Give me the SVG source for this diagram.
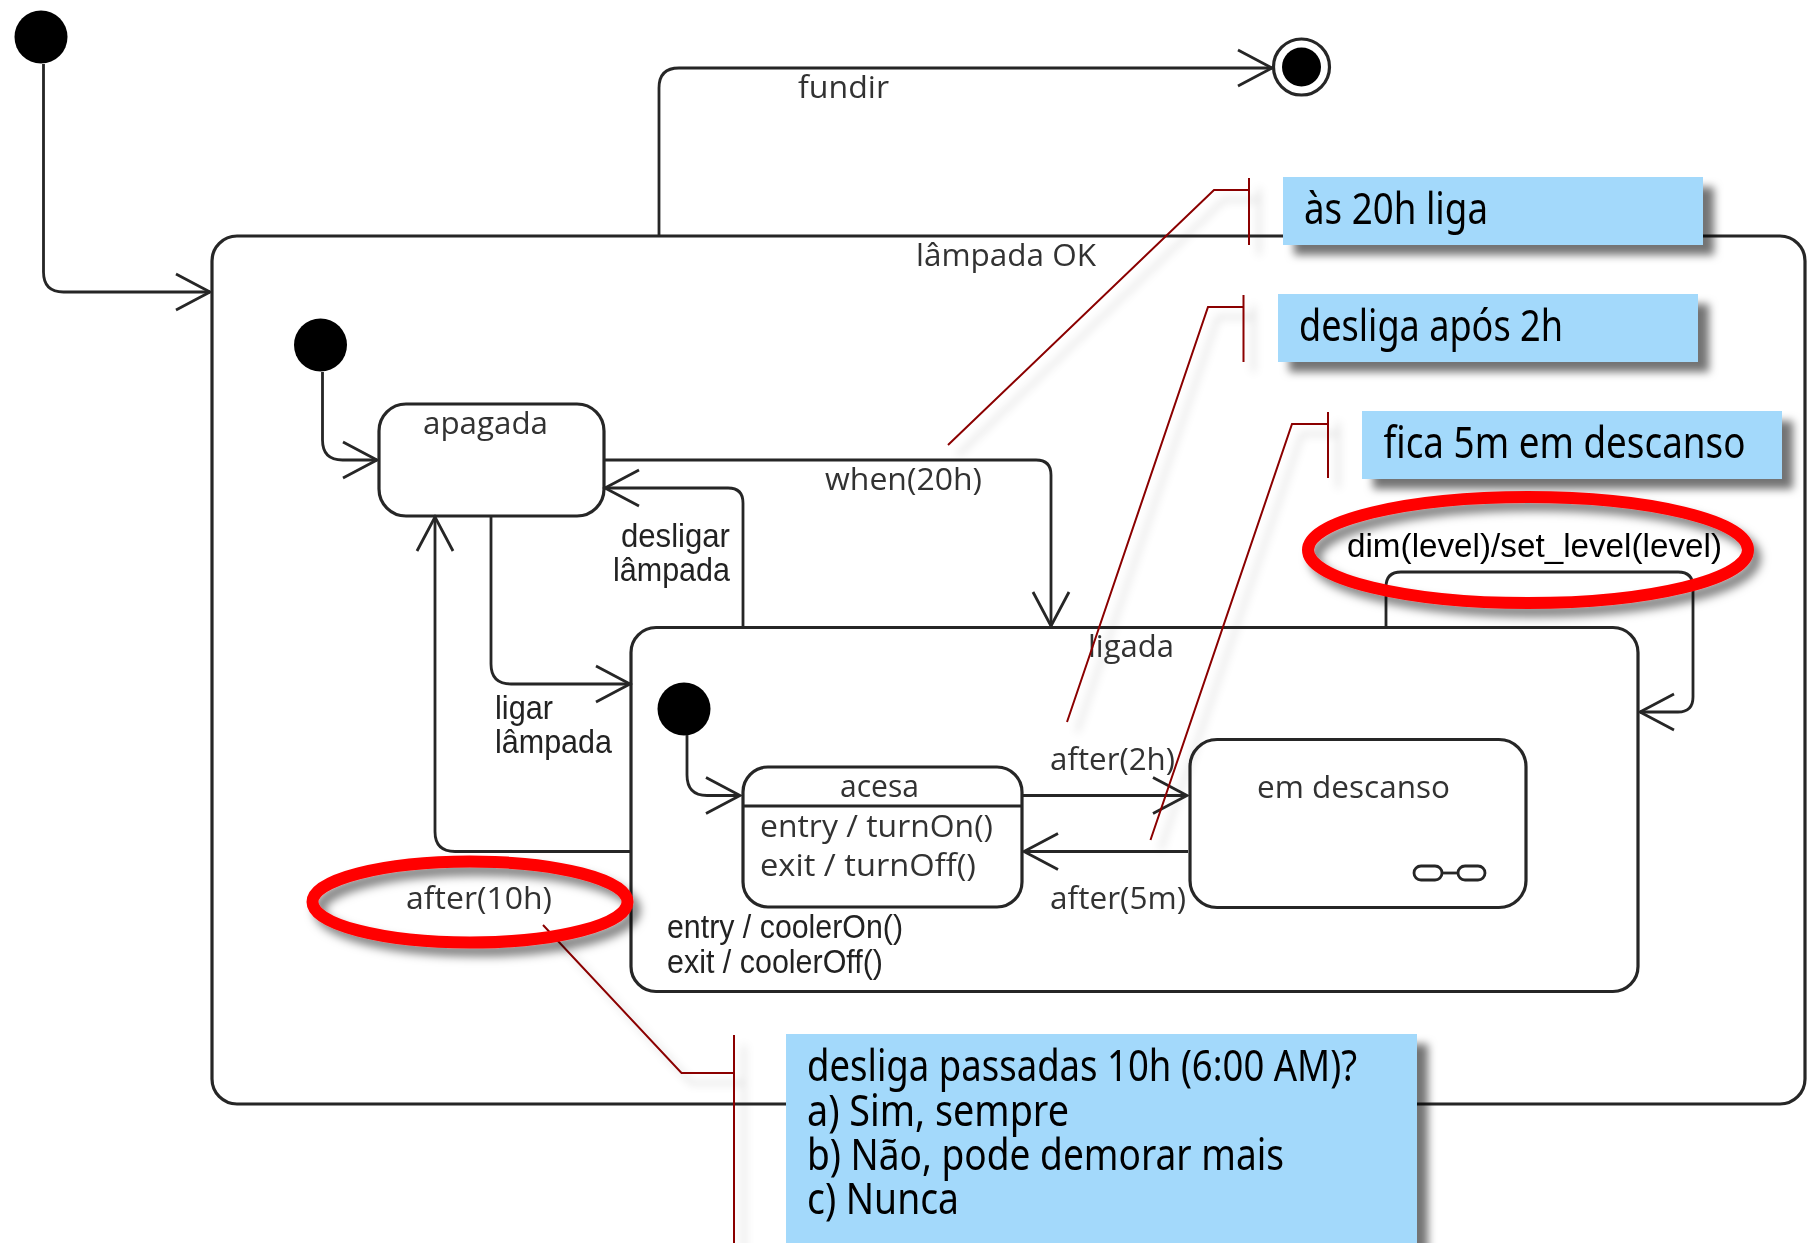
<svg xmlns="http://www.w3.org/2000/svg" width="1811" height="1243" viewBox="0 0 1811 1243">
<style>
.st{fill:none;stroke:#262626;stroke-width:3.200}
.ln{fill:none;stroke:#262626;stroke-width:2.800;stroke-linejoin:round}
.dot{fill:#000}
.u{font-family:"Open Sans","DejaVu Sans",sans-serif;font-size:31px;fill:#333}
.a{font-family:"Liberation Sans",Arial,sans-serif;font-size:33px;fill:#222}
.n{font-family:"Noto Sans","Open Sans",sans-serif;font-size:43px;fill:#000}
.note{fill:#a3d9fb}
.lead{fill:none;stroke:#8b0000;stroke-width:2}
.ring{fill:none;stroke:#f00;stroke-width:12}
</style>
<defs>
<marker id="open" markerUnits="userSpaceOnUse" markerWidth="50" markerHeight="50" viewBox="-40 -25 50 50" refX="0" refY="0" orient="auto" overflow="visible">
<path d="M-34,-18 L0,0 L-34,18" fill="none" stroke="#262626" stroke-width="2.800"/>
</marker>
<filter id="soft" filterUnits="userSpaceOnUse" x="0" y="0" width="1811" height="1243"><feGaussianBlur stdDeviation="0.6"/></filter>
<filter id="shNote" filterUnits="userSpaceOnUse" x="0" y="0" width="1811" height="1300"><feDropShadow dx="11" dy="10" stdDeviation="4" flood-color="#000" flood-opacity="0.55"/></filter>
<filter id="shLead" filterUnits="userSpaceOnUse" x="0" y="0" width="1811" height="1300"><feDropShadow dx="10" dy="10" stdDeviation="4" flood-color="#000" flood-opacity="0.22"/></filter>
<filter id="shRing" filterUnits="userSpaceOnUse" x="0" y="0" width="1811" height="1243"><feDropShadow dx="7" dy="8" stdDeviation="5" flood-color="#000" flood-opacity="0.5"/></filter>
</defs>
<rect width="1811" height="1243" fill="#fff"/>

<g filter="url(#soft)">
<g id="start-top"><circle class="dot" cx="41" cy="37" r="26.5"/></g>
<g id="end-top"><circle cx="1301.5" cy="67" r="28" fill="#fff" stroke="#262626" stroke-width="3.200"/><circle class="dot" cx="1301.5" cy="67" r="19.500"/></g>
<g id="lampada-ok"><rect class="st" x="212" y="236" width="1593" height="868" rx="25"/><text class="u" x="916" y="266" textLength="180" lengthAdjust="spacingAndGlyphs">lâmpada OK</text></g>
<g id="start-lampada"><circle class="dot" cx="320.5" cy="345" r="26.5"/></g>
<g id="apagada"><rect class="st" x="379" y="404" width="225" height="112" rx="27"/><text class="u" x="423" y="434" textLength="125" lengthAdjust="spacingAndGlyphs">apagada</text></g>
<g id="ligada"><rect class="st" x="631" y="627.500" width="1007" height="364" rx="25"/><text class="u" x="1088" y="657" textLength="86" lengthAdjust="spacingAndGlyphs">ligada</text>
<text class="a" x="667" y="938" textLength="236" lengthAdjust="spacingAndGlyphs">entry / coolerOn()</text><text class="a" x="667" y="973" textLength="216" lengthAdjust="spacingAndGlyphs">exit / coolerOff()</text></g>
<g id="start-ligada"><circle class="dot" cx="684" cy="709" r="26.5"/></g>
<g id="acesa"><rect class="st" x="743" y="767" width="279" height="140" rx="25"/><line class="st" x1="743" y1="806" x2="1022" y2="806"/><text class="u" x="840" y="797" textLength="79" lengthAdjust="spacingAndGlyphs">acesa</text>
<text class="u" x="760" y="837" textLength="233" lengthAdjust="spacingAndGlyphs">entry / turnOn()</text><text class="u" x="760" y="876" textLength="216" lengthAdjust="spacingAndGlyphs">exit / turnOff()</text></g>
<g id="em-descanso"><rect class="st" x="1190" y="739.500" width="336" height="168" rx="27"/><text class="u" x="1257" y="798" textLength="193" lengthAdjust="spacingAndGlyphs">em descanso</text>
<rect class="ln" x="1414" y="866" width="28" height="14" rx="7"/><rect class="ln" x="1458" y="866" width="27" height="14" rx="7"/><line class="ln" x1="1442" y1="873" x2="1458" y2="873"/></g>

<g id="connectors">
<path class="ln" marker-end="url(#open)" d="M43.500,64 V272 Q43.500,292 63.500,292 H210"/>
<path class="ln" marker-end="url(#open)" d="M659,236 V88 Q659,68 679,68 H1272"/>
<text class="u" x="798" y="98" textLength="91" lengthAdjust="spacingAndGlyphs">fundir</text>
<path class="ln" marker-end="url(#open)" d="M322.500,372 V440 Q322.500,460 342.500,460 H377"/>
<path class="ln" marker-end="url(#open)" d="M604,460 H1036 Q1051,460 1051,475 V626"/>
<text class="u" x="825" y="490" textLength="157" lengthAdjust="spacingAndGlyphs">when(20h)</text>
<path class="ln" marker-end="url(#open)" d="M743,627 V503 Q743,488 728,488 H605"/>
<text class="a" x="730" y="547" text-anchor="end" textLength="109" lengthAdjust="spacingAndGlyphs">desligar</text>
<text class="a" x="730" y="581" text-anchor="end" textLength="117" lengthAdjust="spacingAndGlyphs">lâmpada</text>
<path class="ln" marker-end="url(#open)" d="M491,516 V664 Q491,684 511,684 H630"/>
<text class="a" x="495" y="719" textLength="58" lengthAdjust="spacingAndGlyphs">ligar</text>
<text class="a" x="495" y="753" textLength="117" lengthAdjust="spacingAndGlyphs">lâmpada</text>
<path class="ln" marker-end="url(#open)" d="M631,851.500 H455 Q435,851.500 435,831.500 V517"/>
<text class="u" x="406" y="909" textLength="146" lengthAdjust="spacingAndGlyphs">after(10h)</text>
<path class="ln" marker-end="url(#open)" d="M687,735 V775 Q687,795.500 707,795.500 H740"/>
<path class="ln" marker-end="url(#open)" d="M1022,795.500 H1187"/>
<text class="u" x="1050" y="770" textLength="125" lengthAdjust="spacingAndGlyphs">after(2h)</text>
<path class="ln" marker-end="url(#open)" d="M1188,851.500 H1024"/>
<text class="u" x="1050" y="909" textLength="136" lengthAdjust="spacingAndGlyphs">after(5m)</text>
<path class="ln" marker-end="url(#open)" d="M1386,627 V587 Q1386,572 1401,572 H1678 Q1693,572 1693,587 V697 Q1693,712 1678,712 H1640"/>
<text class="a" x="1347" y="557" textLength="375" lengthAdjust="spacingAndGlyphs" style="fill:#000">dim(level)/set_level(level)</text>
<g filter="url(#shLead)">
<path class="lead" d="M948,445 L1214,190 H1249 M1249,178 V245"/>
<path class="lead" d="M1067,722 L1208,307 H1243.500 M1243.500,295 V362"/>
<path class="lead" d="M1150.500,840 L1292,424 H1328 M1328,412 V478"/>
<path class="lead" d="M543,925 L681.500,1073 H734 M734,1035 V1250"/>
</g>
</g>
</g>

<g id="note-liga" filter="url(#shNote)"><rect class="note" x="1283" y="177" width="420" height="68"/><text class="n" x="1304" y="224" textLength="184" lengthAdjust="spacingAndGlyphs">às 20h liga</text></g>
<g id="note-desliga" filter="url(#shNote)"><rect class="note" x="1278" y="294" width="420" height="68"/><text class="n" x="1299" y="341" textLength="264" lengthAdjust="spacingAndGlyphs">desliga após 2h</text></g>
<g id="note-descanso" filter="url(#shNote)"><rect class="note" x="1362" y="411" width="420" height="68"/><text class="n" x="1383.500" y="458" textLength="362" lengthAdjust="spacingAndGlyphs">fica 5m em descanso</text></g>
<g id="note-pergunta" filter="url(#shNote)"><rect class="note" x="786" y="1034" width="631" height="230"/>
<text class="n"><tspan x="807" y="1081" textLength="550" lengthAdjust="spacingAndGlyphs">desliga passadas 10h (6:00 AM)?</tspan><tspan x="807" y="1126" textLength="262" lengthAdjust="spacingAndGlyphs">a) Sim, sempre</tspan><tspan x="807" y="1170" textLength="477" lengthAdjust="spacingAndGlyphs">b) Não, pode demorar mais</tspan><tspan x="807" y="1214" textLength="152" lengthAdjust="spacingAndGlyphs">c) Nunca</tspan></text></g>

<g id="highlight-dim"><ellipse class="ring" cx="1528" cy="550" rx="220" ry="53" filter="url(#shRing)"/></g>
<g id="highlight-after"><ellipse class="ring" cx="470" cy="902" rx="157.500" ry="40.500" filter="url(#shRing)"/></g>
</svg>
